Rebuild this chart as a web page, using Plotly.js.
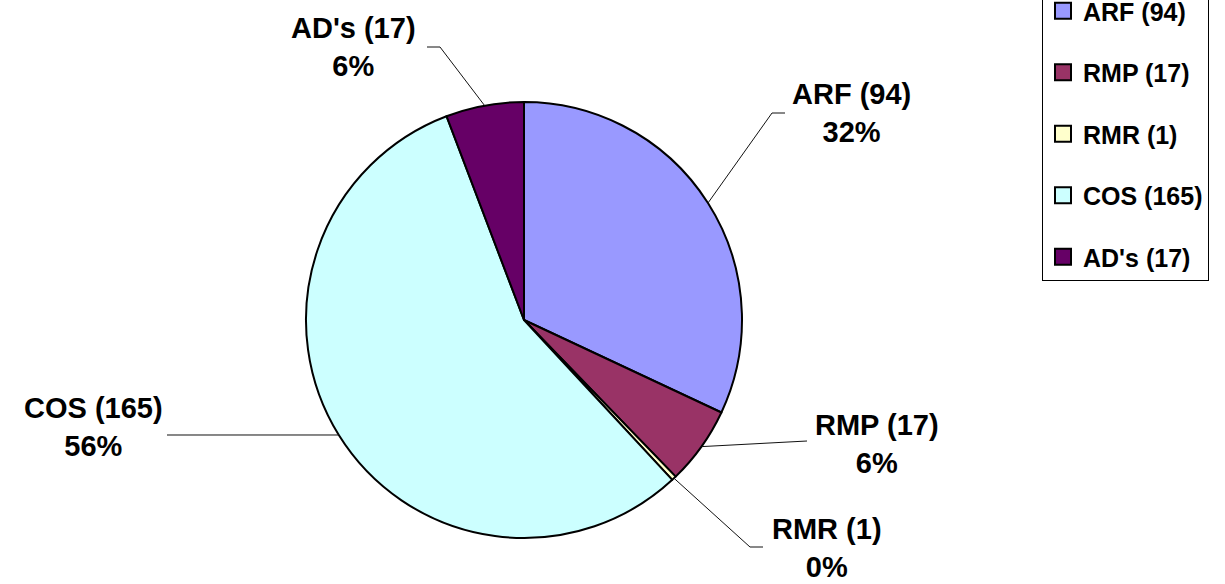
<!DOCTYPE html>
<html>
<head>
<meta charset="utf-8">
<script src="https://cdn.plot.ly/plotly-3.0.1.min.js"></script>
<style>html,body{margin:0;padding:0;background:#fff;}#chart{width:1225px;height:584px;}</style>
</head>
<body>
<div id="chart"></div>
<script>
// ---- data ----
const categories = ['ARF', 'RMP', 'RMR', 'COS', "AD's"];
const counts = [94, 17, 1, 165, 17];
const sliceColors = ['#9999FF', '#993366', '#FFFFCC', '#CCFFFF', '#660066'];

// ---- layout positions (pixels) ----
const W = 1225, H = 584;
const pieCx = 524, pieCy = 320, pieR = 218;
// label block centres and leader-line bend points (pixels)
const labelX = [851, 877, 827, 93, 353];
const labelY = [113, 444, 548, 427, 47];
const leaderBend = [[772, 113], [807, 441], [750, 547], [167, 435], [440, 47]];
const leaderEnd = [[785, 113], null, [763, 547], null, [427, 47]];

const px = x => x / W;
const py = y => 1 - y / H;

const total = counts.reduce((a, b) => a + b, 0);
const names = categories.map((c, i) => c + ' (' + counts[i] + ')');
const pcts = counts.map(v => Math.round(v / total * 100) + '%');

const FONT = 'Liberation Sans, Arial, sans-serif';

const traces = [{
  type: 'pie',
  labels: names,
  values: counts,
  sort: false,
  direction: 'clockwise',
  rotation: 0,
  textinfo: 'none',
  hoverinfo: 'label+percent',
  showlegend: false,
  marker: { colors: sliceColors, line: { color: '#000000', width: 2 } },
  domain: {
    x: [px(pieCx - pieR), px(pieCx + pieR)],
    y: [py(pieCy + pieR), py(pieCy - pieR)]
  }
}];

// legend entries
categories.forEach((c, i) => {
  traces.push({
    type: 'scatter', mode: 'markers', x: [null], y: [null],
    name: names[i], legendgroup: 'g' + i, showlegend: true,
    marker: { symbol: 'square', size: 16, color: sliceColors[i], line: { color: '#000', width: 2 } },
    hoverinfo: 'skip'
  });
});

const annotations = [];
const shapes = [];
let cum = 0;
counts.forEach((v, i) => {
  const mid = (cum + v / 2) / total * 2 * Math.PI;
  cum += v;
  const ex = pieCx + pieR * Math.sin(mid);
  const ey = pieCy - pieR * Math.cos(mid);
  let path = 'M' + px(ex) + ',' + py(ey) + ' L' + px(leaderBend[i][0]) + ',' + py(leaderBend[i][1]);
  if (leaderEnd[i]) path += ' L' + px(leaderEnd[i][0]) + ',' + py(leaderEnd[i][1]);
  shapes.push({ type: 'path', xref: 'paper', yref: 'paper', path: path, line: { color: '#111111', width: 1 } });
  annotations.push({
    xref: 'paper', yref: 'paper', x: px(labelX[i]), y: py(labelY[i]),
    xanchor: 'center', yanchor: 'middle', align: 'center', showarrow: false,
    text: '<b>' + names[i] + '<br>' + pcts[i] + '</b>',
    font: { family: FONT, size: 29, color: '#000' }
  });
});

const layout = {
  width: W, height: H,
  margin: { l: 0, r: 0, t: 0, b: 0, autoexpand: false },
  paper_bgcolor: '#ffffff', plot_bgcolor: '#ffffff',
  xaxis: { visible: false, domain: [0, 1] },
  yaxis: { visible: false, domain: [0, 1] },
  showlegend: true,
  legend: {
    x: px(1042), xanchor: 'left', y: py(281), yanchor: 'bottom',
    bordercolor: '#000000', borderwidth: 1, bgcolor: '#ffffff',
    font: { family: FONT, size: 25, color: '#000', weight: 'bold' },
    tracegroupgap: 26, traceorder: 'grouped',
    entrywidth: 200, entrywidthmode: 'pixels'
  },
  annotations: annotations,
  shapes: shapes
};

Plotly.newPlot('chart', traces, layout, { displayModeBar: false, staticPlot: true });
</script>
</body>
</html>
